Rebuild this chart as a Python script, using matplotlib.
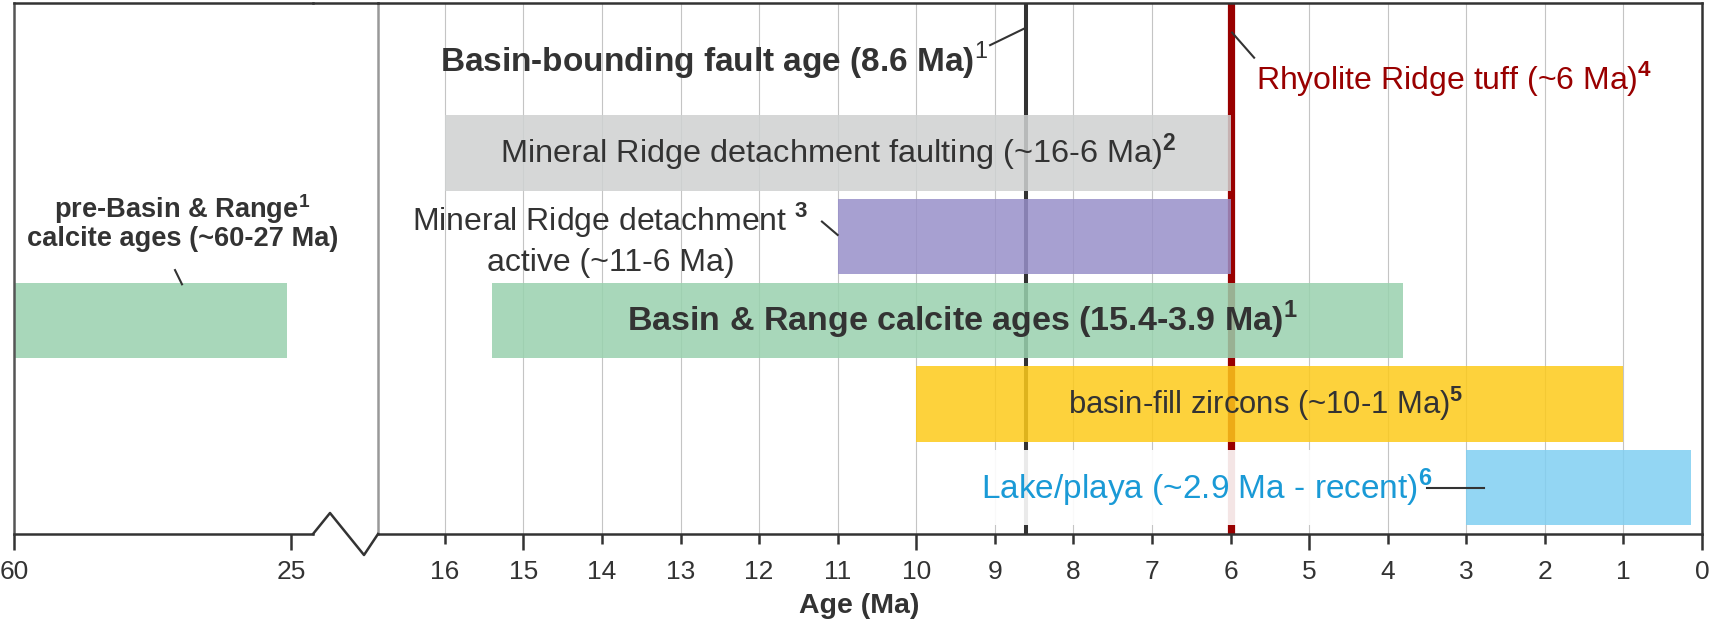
import matplotlib
matplotlib.use("Agg")
import matplotlib.pyplot as plt
from matplotlib.lines import Line2D
from matplotlib.patches import Rectangle

plt.rcParams['font.family'] = ['Liberation Sans', 'DejaVu Sans']
plt.rcParams['mathtext.fontset'] = 'custom'
plt.rcParams['mathtext.rm'] = 'Liberation Sans'
plt.rcParams['mathtext.bf'] = 'Liberation Sans:bold'

# ---- data (ages in Ma) ----
row_names = ['Mineral Ridge detachment faulting', 'Mineral Ridge detachment active',
             'Basin & Range calcite ages', 'basin-fill zircons', 'Lake/playa']
row_pos = [4, 3, 2, 1, 0]
age_old = [16, 11, 15.4, 10, 3]
age_young = [6, 6, 3.8, 1, 0.14]
row_colors = ['#cfd1d1', '#9890c9', '#99d1ae', '#fdca1a', '#80cff1']

pre_row = 2
pre_old = 60
pre_young = 25.5
pre_color = '#99d1ae'

fault_age = 8.6
tuff_age = 6

right_ticks = list(range(0, 17))
right_major = [0, 5, 10, 15]
left_ticks = [60, 25]

W, H = 1710, 621
DARK = '#333333'


def px_rect(x0, x1, ytop, ybot):
    return [x0 / W, (H - ybot) / H, (x1 - x0) / W, (ybot - ytop) / H]


def fig_pt(x, y):
    return x / W, (H - y) / H


fig = plt.figure(figsize=(W / 100, H / 100), dpi=100)
axL = fig.add_axes(px_rect(14, 313, 3, 534))
axR = fig.add_axes(px_rect(378, 1702, 3, 534))

ylim = (-0.556, 5.794)
for ax in (axL, axR):
    ax.set_ylim(*ylim)
    ax.set_yticks([])
    for s in ax.spines.values():
        s.set_linewidth(1.8)
        s.set_color(DARK)
    ax.tick_params(axis='x', which='both', width=1.8, color=DARK,
                   labelcolor=DARK, labelsize=19)

axL.set_xlim(60, 22.25)
axR.set_xlim(16.85, 0)

axL.spines['right'].set_visible(False)
axL.spines['left'].set_color('#555555')
axR.spines['left'].set_color('#999999')

# ticks
axL.set_xticks(left_ticks)
axL.tick_params(axis='x', length=11.5, pad=7)
axR.set_xticks(right_major)
axR.set_xticks([t for t in right_ticks if t not in right_major],
               labels=[str(t) for t in right_ticks if t not in right_major], minor=True)
axR.tick_params(axis='x', which='major', length=11.5, pad=7)
axR.tick_params(axis='x', which='minor', length=7, pad=11.5, labelsize=19)

# grid
for t in right_ticks[1:]:
    axR.axvline(t, color='#c4c4c4', lw=0.8, zorder=0.5)

# event lines
axR.axvline(fault_age, color=DARK, lw=2.9, zorder=1.5)
axR.axvline(tuff_age, color='#990000', lw=5.2, zorder=1.5)

# bars
for y, a0, a1, c in zip(row_pos, age_old, age_young, row_colors):
    axR.barh(y, a0 - a1, left=a1, height=0.9, color=c, alpha=0.85, zorder=2)
axL.barh(pre_row, pre_old - pre_young, left=pre_young, height=0.9,
         color=pre_color, alpha=0.85, zorder=2)

# white backing behind the lake label
axR.add_patch(Rectangle((4.4, -0.45), 5.2, 0.9, facecolor='white', alpha=0.9,
                        edgecolor='none', zorder=2.5))

# labels
axR.text(9.09, 4.97, 'Basin-bounding fault age (8.6 Ma)$^{1}$', ha='right', va='baseline',
         fontsize=24, fontweight='bold', color=DARK, zorder=4)
axR.plot([9.06, 8.6], [5.29, 5.5], color=DARK, lw=1.5, zorder=4)

axR.text(5.68, 4.886, r'Rhyolite Ridge tuff (~6 Ma)$^{\mathbf{4}}$', ha='left', va='center',
         fontsize=23, color='#990000', zorder=4)
axR.plot([5.98, 5.70], [5.44, 5.14], color=DARK, lw=1.5, zorder=4)

axR.text(11.0, 4, r'Mineral Ridge detachment faulting (~16-6 Ma)$^{\mathbf{2}}$',
         ha='center', va='center', fontsize=23.4, color=DARK, zorder=4)

axR.text(13.89, 2.976, 'Mineral Ridge detachment $^{\\mathbf{3}}$\nactive (~11-6 Ma)',
         ha='center', va='center', fontsize=23, color=DARK, zorder=4, linespacing=1.4)
axR.plot([11.2, 11.0], [3.18, 3.02], color=DARK, lw=1.5, zorder=4)

axR.text(9.42, 2, r'Basin & Range calcite ages (15.4-3.9 Ma)$^{\mathbf{1}}$',
         ha='center', va='center', fontsize=24.5, fontweight='bold', color=DARK, zorder=4)

axR.text(5.55, 1, r'basin-fill zircons (~10-1 Ma)$^{\mathbf{5}}$',
         ha='center', va='center', fontsize=22.3, color=DARK, zorder=4)

axR.text(9.18, 0, r'Lake/playa (~2.9 Ma - recent)$^{\mathbf{6}}$', ha='left', va='center',
         fontsize=24, color='#1a9ad6', zorder=4)
axR.plot([3.5, 2.77], [0, 0], color=DARK, lw=1.5, zorder=4)

axL.text(38.75, 3.17, 'pre-Basin & Range$^{\\mathbf{1}}$\ncalcite ages (~60-27 Ma)',
         ha='center', va='center', fontsize=19.6, fontweight='bold', color=DARK,
         zorder=4, linespacing=1.0)
axL.plot([39.67, 38.79], [2.6, 2.43], color=DARK, lw=1.5, zorder=4)

# axis break: zigzag along the bottom and top border across the gap
zx, zy = zip(*[fig_pt(313, 534), fig_pt(330, 513), fig_pt(364, 555), fig_pt(378, 534)])
fig.add_artist(Line2D(zx, zy, color=DARK, lw=1.8, transform=fig.transFigure))
tx, ty = zip(*[fig_pt(313, 3), fig_pt(378, 3)])
fig.add_artist(Line2D(tx, ty, color=DARK, lw=1.8, transform=fig.transFigure))

fig.text(859 / W, (H - 613) / H, 'Age (Ma)', ha='center', va='baseline',
         fontsize=20.5, fontweight='bold', color=DARK)

fig.savefig('out.png', dpi=100)
